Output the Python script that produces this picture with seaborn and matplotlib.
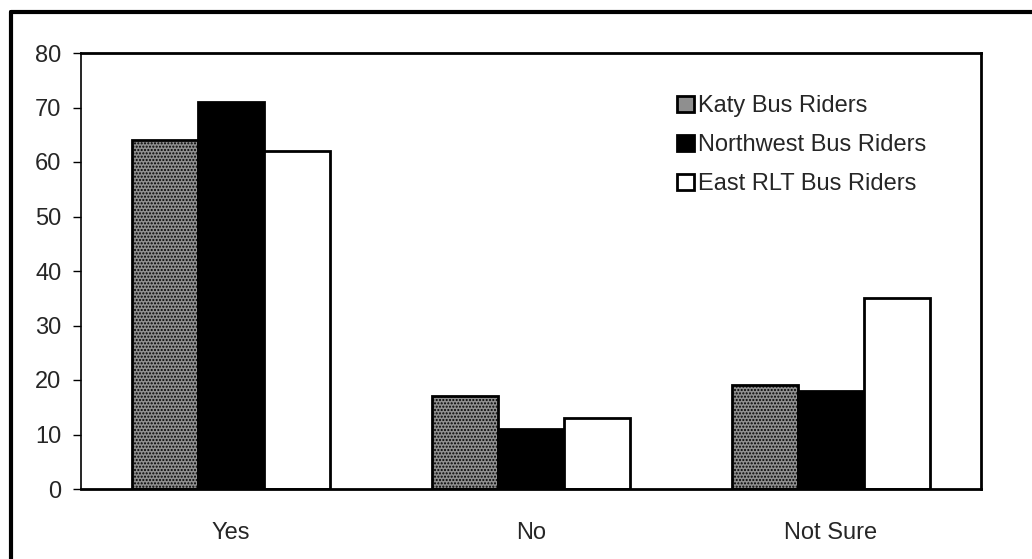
import matplotlib
matplotlib.use("Agg")
import matplotlib.pyplot as plt
import matplotlib.lines as mlines
import pandas as pd
import seaborn as sns

CATEGORIES = ["Yes", "No", "Not Sure"]
SERIES = ["Katy Bus Riders", "Northwest Bus Riders", "East RLT Bus Riders"]
KATY = [64, 17, 19]
NORTHWEST = [71, 11, 18]
EAST_RLT = [62, 13, 35]
Y_TICKS = [0, 10, 20, 30, 40, 50, 60, 70, 80]

COLORS = ["#8f8f8f", "#000000", "#ffffff"]

"""
Grouped bar chart of bus rider responses (Yes / No / Not Sure).
"""


def build_frame():
    rows = []
    for name, vals in zip(SERIES, [KATY, NORTHWEST, EAST_RLT]):
        for cat, v in zip(CATEGORIES, vals):
            rows.append({"category": cat, "series": name, "value": v})
    return pd.DataFrame(rows)


def main():
    sns.set_style("white")
    plt.rcParams["font.family"] = ["Liberation Sans", "DejaVu Sans"]
    plt.rcParams["hatch.color"] = "#505050"

    df = build_frame()
    fig = plt.figure(figsize=(10.32, 5.59), dpi=100)
    ax = fig.add_axes([81 / 1032, 1 - 489 / 559, 900 / 1032, 436 / 559])

    sns.barplot(
        data=df, x="category", y="value", hue="series",
        order=CATEGORIES, hue_order=SERIES, palette=COLORS,
        width=0.66, edgecolor="black", linewidth=2, saturation=1,
        ax=ax,
    )

    # stippled look for the Katy bars
    for patch in ax.containers[0]:
        patch.set_hatch(".....")

    ax.set_xlim(-0.5, 2.5)
    ax.set_ylim(0, 80)
    ax.set_yticks(Y_TICKS)
    ax.set_yticklabels([str(t) for t in Y_TICKS], fontsize=17)
    ax.set_xlabel("")
    ax.set_ylabel("")

    # category labels centred, tick marks between categories
    ax.set_xticks([0, 1, 2])
    ax.set_xticklabels(CATEGORIES, fontsize=17)
    ax.set_xticks([-0.5, 0.5, 1.5, 2.5], minor=True)
    ax.tick_params(axis="x", which="major", length=0, pad=24)
    ax.tick_params(axis="x", which="minor", length=6, width=1, direction="out", color="black")
    ax.tick_params(axis="y", length=6, width=1, direction="out", color="black", pad=8, left=True)

    for side in ["left", "bottom", "right", "top"]:
        ax.spines[side].set_visible(True)
        ax.spines[side].set_color("black")
    ax.spines["left"].set_linewidth(1.2)
    ax.spines["bottom"].set_linewidth(2)
    ax.spines["top"].set_linewidth(2)
    ax.spines["right"].set_linewidth(2)

    leg = ax.legend(
        loc="upper left", bbox_to_anchor=(0.652, 0.925),
        frameon=False, fontsize=17, handlelength=0.7, handleheight=0.7,
        handletextpad=0.2, labelspacing=0.72, borderaxespad=0,
    )
    for h in leg.legend_handles:
        h.set_linewidth(2)

    # outer frame (top and left edges visible)
    fig.add_artist(mlines.Line2D([11 / 1032, 1.0], [1 - 12 / 559, 1 - 12 / 559],
                                 transform=fig.transFigure, color="black", linewidth=3))
    fig.add_artist(mlines.Line2D([11 / 1032, 11 / 1032], [0.0, 1 - 12 / 559],
                                 transform=fig.transFigure, color="black", linewidth=3))

    fig.savefig("out.png", dpi=100)
    plt.close(fig)


if __name__ == "__main__":
    main()
